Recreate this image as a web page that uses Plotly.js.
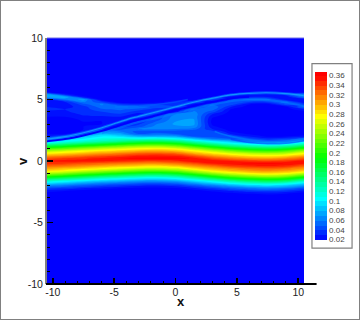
<!DOCTYPE html>
<html>
<head>
<meta charset="utf-8">
<script src="https://cdn.plot.ly/plotly-3.0.1.min.js"></script>
<style>
  html, body { margin: 0; padding: 0; background: #fff; }
  #plot { width: 360px; height: 320px; }
  #frame { position: absolute; left: 0; top: 0; width: 358px; height: 318px; border: 1px solid #808080; pointer-events: none; }
</style>
</head>
<body>
<div id="plot"></div>
<div id="frame"></div>
<script>
// grid
var xCols = [-10.5, -9, -7.5, -6, -4.5, -3, -1.5, 0, 1.5, 3, 4.5, 6, 7.5, 9, 10.5];
var vRows = [-10, -3.2, -2.8, -2.6, -2.4, -2.2, -2, -1.8, -1.6, -1.4, -1.2, -1, -0.8, -0.6, -0.4, -0.2,
    0, 0.2, 0.4, 0.6, 0.8, 1, 1.2, 1.4, 1.6, 1.8, 2, 2.2, 2.4, 2.6, 2.8, 3, 3.2, 3.4, 3.6, 3.8,
    4, 4.2, 4.4, 4.6, 4.8, 5, 5.2, 5.4, 5.6, 5.8, 6.2, 10];
var fValues = [
    [0,0,0,0,0,0,0,0,0,0,0,0,0,0,0],
    [.002,.002,.002,.001,.001,.001,.001,.001,.001,.002,.002,.003,.003,.003,.002],
    [.008,.006,.005,.004,.003,.003,.003,.003,.005,.007,.010,.013,.015,.012,.008],
    [.015,.012,.009,.008,.006,.005,.005,.006,.008,.013,.019,.024,.027,.023,.016],
    [.027,.022,.017,.014,.012,.010,.009,.011,.016,.024,.033,.040,.044,.040,.029],
    [.044,.038,.031,.026,.021,.018,.017,.020,.029,.040,.053,.062,.067,.061,.046],
    [.067,.059,.050,.042,.037,.032,.030,.034,.046,.062,.077,.089,.095,.087,.070],
    [.095,.084,.073,.064,.057,.050,.048,.054,.070,.089,.107,.121,.128,.119,.098],
    [.128,.115,.102,.092,.083,.075,.072,.079,.098,.120,.144,.160,.168,.158,.132],
    [.168,.154,.138,.124,.114,.104,.101,.108,.132,.160,.186,.202,.210,.200,.172],
    [.210,.196,.179,.164,.152,.140,.136,.146,.172,.202,.226,.242,.250,.240,.214],
    [.250,.236,.220,.206,.194,.181,.177,.188,.214,.242,.264,.280,.287,.278,.254],
    [.287,.274,.259,.246,.234,.222,.218,.228,.254,.280,.297,.308,.312,.306,.288],
    [.305,.297,.288,.278,.268,.258,.255,.263,.285,.302,.315,.324,.328,.323,.308],
    [.327,.320,.312,.304,.297,.290,.287,.295,.310,.325,.340,.348,.352,.347,.330],
    [.345,.340,.332,.326,.320,.315,.312,.320,.335,.350,.358,.362,.362,.360,.352],
    [.352,.355,.354,.352,.347,.342,.340,.345,.360,.360,.350,.342,.338,.344,.356],
    [.335,.342,.348,.355,.360,.365,.365,.367,.358,.338,.322,.312,.306,.315,.332],
    [.310,.318,.327,.336,.344,.352,.356,.352,.335,.312,.297,.285,.280,.288,.305],
    [.280,.290,.300,.310,.320,.330,.334,.328,.305,.285,.268,.254,.248,.256,.277],
    [.250,.262,.275,.286,.295,.303,.306,.300,.280,.257,.234,.218,.210,.220,.246],
    [.210,.224,.240,.254,.264,.275,.280,.270,.246,.218,.194,.177,.168,.179,.206],
    [.168,.183,.200,.214,.226,.238,.242,.232,.206,.177,.152,.136,.128,.138,.164],
    [.128,.142,.158,.172,.186,.198,.202,.192,.164,.136,.114,.101,.095,.102,.124],
    [.070,.106,.119,.132,.144,.156,.160,.150,.124,.101,.083,.060,.050,.060,.090],
    [.060,.080,.100,.115,.120,.115,.120,.110,.085,.060,.050,.045,.035,.040,.055],
    [.030,.050,.085,.100,.095,.080,.080,.075,.050,.045,.050,.030,.018,.020,.025],
    [.020,.020,.040,.085,.075,.050,.055,.050,.040,.050,.030,.018,.012,.012,.015],
    [.015,.012,.022,.060,.060,.045,.045,.045,.040,.045,.020,.012,.012,.012,.012],
    [.015,.012,.020,.035,.045,.062,.062,.060,.055,.030,.014,.012,.012,.012,.012],
    [.015,.012,.020,.025,.035,.045,.065,.068,.068,.022,.012,.012,.012,.012,.012],
    [.015,.012,.018,.020,.030,.038,.060,.072,.072,.018,.012,.012,.012,.012,.012],
    [.015,.015,.020,.020,.026,.033,.052,.070,.072,.016,.012,.012,.012,.012,.012],
    [.018,.016,.022,.022,.025,.030,.045,.068,.070,.018,.012,.012,.012,.012,.012],
    [.020,.020,.028,.028,.030,.030,.042,.066,.068,.022,.012,.012,.012,.012,.012],
    [.025,.024,.032,.035,.038,.025,.040,.060,.068,.030,.014,.012,.012,.012,.012],
    [.028,.028,.036,.040,.046,.035,.030,.025,.062,.045,.016,.012,.012,.012,.016],
    [.032,.030,.035,.048,.052,.045,.035,.020,.055,.055,.020,.012,.012,.014,.030],
    [.030,.026,.035,.056,.062,.058,.045,.040,.030,.060,.030,.014,.012,.018,.055],
    [.022,.024,.045,.062,.040,.035,.040,.035,.020,.050,.045,.020,.015,.045,.040],
    [.020,.030,.062,.040,.012,.010,.015,.030,.040,.025,.050,.040,.040,.055,.020],
    [.030,.060,.075,.012,.004,.003,.004,.015,.012,.040,.040,.055,.055,.025,.020],
    [.075,.082,.025,.004,.002,.002,.002,.004,.003,.020,.020,.030,.030,.020,.060],
    [.080,.030,.008,.002,.001,.001,.001,.001,.002,.003,.030,.020,.022,.035,.072],
    [.020,.008,.002,.001,.001,.001,.001,.001,.001,.002,.005,.020,.030,.020,.012],
    [.008,.003,.001,.001,.001,.001,.001,.001,.001,.001,.003,.004,.004,.003,.003],
    [.003,.001,.001,.001,.001,.001,.001,.001,.001,.001,.001,.001,.001,.001,.001],
    [0,0,0,0,0,0,0,0,0,0,0,0,0,0,0]
];

// thin filaments that are too narrow for the grid
var outerX = [-10.5, -9, -7.5, -6, -5, -3.5, -2, 0, 2, 3.5, 4.7, 6, 7.4, 9, 10.5];
var outerV = [1.78, 1.98, 2.3, 2.7, 3.03, 3.5, 3.88, 4.4, 4.9, 5.2, 5.4, 5.5, 5.55, 5.47, 5.3];
var gapX = [-10.5, -9, -7.5, -6, -5, -3.5, -2, 0, 2, 3.5, 4.7, 6];
var gapV = [1.6, 1.78, 2.08, 2.45, 2.76, 3.22, 3.6, 4.12, 4.62, 4.9, 5.12, 5.22];
var innerX = [-6, -4.5, -3, -1.5, 0, 2, 3.5, 5, 7, 9, 10.5];
var innerV = [2.25, 2.72, 3.17, 3.5, 3.86, 4.38, 4.68, 4.92, 5.0, 4.76, 4.45];
var lowerX = [3.2, 4.5, 6, 7.5, 9, 10.5];
var lowerV = [2.4, 2.0, 1.72, 1.58, 1.6, 1.82];
var lowerGapX = [4.5, 6, 7.5, 9, 10.5];
var lowerGapV = [1.76, 1.5, 1.4, 1.44, 1.65];
var wedgeX = [-3, -1, 1];
var wedgeV = [4.45, 4.65, 5.0];

var axisTickVals = [-10, -5, 0, 5, 10];
var axisTickText = ['-10', '-5', '0', '5', '10'];
var colorbarLevels = { start: 0.02, end: 0.37, size: 0.01 };
var jet = [[0, '#0000ff'], [0.25, '#00ffff'], [0.5, '#00ff00'], [0.75, '#ffff00'], [1, '#ff0000']];

function streak(x, v, color, width) {
    return { type: 'scatter', mode: 'lines', x: x, y: v, hoverinfo: 'skip', showlegend: false,
        line: { color: color, width: width, shape: 'spline' } };
}

var data = [
    {
        type: 'contour',
        x: xCols,
        y: vRows,
        z: fValues,
        zmin: 0.02,
        zmax: 0.368,
        colorscale: jet,
        autocontour: false,
        contours: { coloring: 'fill', showlines: false, start: colorbarLevels.start, end: colorbarLevels.end, size: colorbarLevels.size },
        line: { width: 0 },
        colorbar: {
            thicknessmode: 'pixels', thickness: 12,
            lenmode: 'pixels', len: 168,
            x: 1.043, xanchor: 'left',
            y: 0.522, yanchor: 'middle',
            xpad: 0, ypad: 0,
            outlinewidth: 0,
            tick0: 0.02, dtick: 0.02,
            ticks: '',
            tickfont: { family: 'Liberation Sans', size: 8, color: '#444' }
        }
    },
    streak(innerX, innerV, 'rgba(0,130,255,0.5)', 2),
    streak(gapX, gapV, '#0000ff', 2),
    streak(lowerGapX, lowerGapV, 'rgba(0,40,255,0.5)', 1.5),
    streak(wedgeX, wedgeV, 'rgba(0,90,255,0.6)', 1.5),
    streak(lowerX, lowerV, 'rgba(0,120,255,0.75)', 1.8),
    streak(outerX, outerV, 'rgba(0,110,255,0.6)', 2.8),
    streak(outerX, outerV, 'rgba(20,160,255,0.85)', 1.2)
];

var layout = {
    width: 360,
    height: 320,
    margin: { l: 47, r: 56, t: 38, b: 36 },
    paper_bgcolor: '#fff',
    plot_bgcolor: '#0000ff',
    font: { family: 'Liberation Sans', color: '#222' },
    showlegend: false,
    xaxis: {
        range: [-10.47, 10.47],
        tickmode: 'array', tickvals: axisTickVals, ticktext: axisTickText,
        ticks: 'inside', ticklen: 6, tickwidth: 1.5, tickcolor: '#000',
        minor: { dtick: 1, ticks: 'inside', ticklen: 3, tickwidth: 1, tickcolor: '#000' },
        showgrid: false, zeroline: false, showline: false,
        tickfont: { size: 10.5 }
    },
    yaxis: {
        range: [-10, 10],
        tickmode: 'array', tickvals: axisTickVals, ticktext: axisTickText,
        ticks: 'inside', ticklen: 6, tickwidth: 1.5, tickcolor: '#000',
        minor: { dtick: 1, ticks: 'inside', ticklen: 3, tickwidth: 1, tickcolor: '#000' },
        showgrid: false, zeroline: false,
        showline: true, linecolor: '#808080', linewidth: 2,
        tickfont: { size: 10.5 }
    },
    annotations: [
        { text: '<b>x</b>', xref: 'paper', yref: 'paper', x: 0.521, y: -0.073, xanchor: 'center', yanchor: 'middle', showarrow: false, font: { size: 13, color: '#111' } },
        { text: '<b>v</b>', xref: 'paper', yref: 'paper', x: -0.097, y: 0.5, xanchor: 'center', yanchor: 'middle', textangle: -90, showarrow: false, font: { size: 13, color: '#111' } }
    ],
    shapes: [
        // bottom axis runs on past the plot
        { type: 'line', xref: 'paper', yref: 'paper', x0: -0.004, x1: 1.049, y0: 0, y1: 0, line: { color: '#000', width: 2 } },
        { type: 'line', xref: 'paper', yref: 'paper', x0: 0, x1: 1, y0: 1, y1: 1, line: { color: '#7070e8', width: 1 } },
        // box round the legend
        { type: 'rect', xref: 'paper', yref: 'paper', x0: 1.031, x1: 1.187, y0: 0.146, y1: 0.896, line: { color: '#808080', width: 1.2 } }
    ]
};

Plotly.newPlot('plot', data, layout, { displayModeBar: false, staticPlot: true });
</script>
</body>
</html>
